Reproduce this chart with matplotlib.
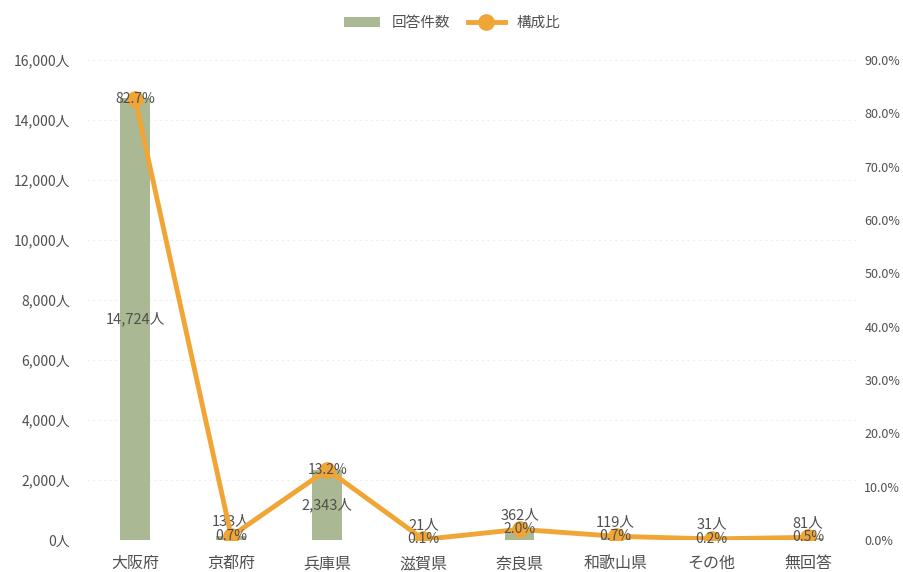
import matplotlib.pyplot as plt
from matplotlib.ticker import FuncFormatter

plt.rcParams["font.family"] = ["Noto Sans CJK JP", "DejaVu Sans"]

categories = ["大阪府", "京都府", "兵庫県", "滋賀県", "奈良県", "和歌山県", "その他", "無回答"]
counts = [14724, 133, 2343, 21, 362, 119, 31, 81]
ratios = [82.7, 0.7, 13.2, 0.1, 2.0, 0.7, 0.2, 0.5]

bar_color = "#aab893"
line_color = "#f0a535"
text_color = "#505050"

fig = plt.figure(figsize=(9.04, 5.72), dpi=100)
ax = fig.add_axes([87 / 904, 32 / 572, (856 - 87) / 904, (540 - 60) / 572])
ax2 = ax.twinx()

x = list(range(len(categories)))
bars = ax.bar(x, counts, width=0.31, color=bar_color, label="回答件数", zorder=2)
ax2.plot(x, ratios, color=line_color, linewidth=3.5, marker="o", markersize=11,
         label="構成比", zorder=3)

ax.set_xlim(-0.5, len(categories) - 0.5)
ax.set_ylim(0, 16000)
ax.set_yticks(range(0, 16001, 2000))
ax.yaxis.set_major_formatter(FuncFormatter(lambda v, p: f"{int(v):,}人"))
ax2.set_ylim(0, 90)
ax2.set_yticks(range(0, 91, 10))
ax2.yaxis.set_major_formatter(FuncFormatter(lambda v, p: f"{v:.1f}%"))

ax.set_xticks(x)
ax.set_xticklabels(categories, fontsize=11.5, color=text_color)
ax.tick_params(axis="y", labelsize=10, colors=text_color, length=0, pad=12)
ax2.tick_params(axis="y", labelsize=9, colors=text_color, length=0, pad=6)
ax.tick_params(axis="x", length=0, pad=11)

ax.grid(axis="y", color="#eeeeee", linewidth=0.8, linestyle=(0, (2, 3)), zorder=0)
for a in (ax, ax2):
    for s in a.spines.values():
        s.set_visible(False)

# count labels: inside tall bars, above small ones
for xi, c in zip(x, counts):
    label = f"{c:,}人"
    if c > 2000:
        ax.text(xi, c / 2, label, ha="center", va="center", fontsize=10.5, color=text_color, zorder=4)
    else:
        ax.text(xi, c + 480, label, ha="center", va="center", fontsize=10.5, color=text_color, zorder=4)

for xi, r in zip(x, ratios):
    ax2.text(xi, r, f"{r:.1f}%", ha="center", va="center", fontsize=10, color=text_color, zorder=5)

handles = [bars, ax2.get_lines()[0]]
fig.legend(handles, ["回答件数", "構成比"], loc="upper center", bbox_to_anchor=(0.5, 0.995),
           ncol=2, frameon=False, fontsize=10.5, labelcolor=text_color,
           handlelength=2.5, columnspacing=1.2)

fig.savefig("out.png", dpi=100)
